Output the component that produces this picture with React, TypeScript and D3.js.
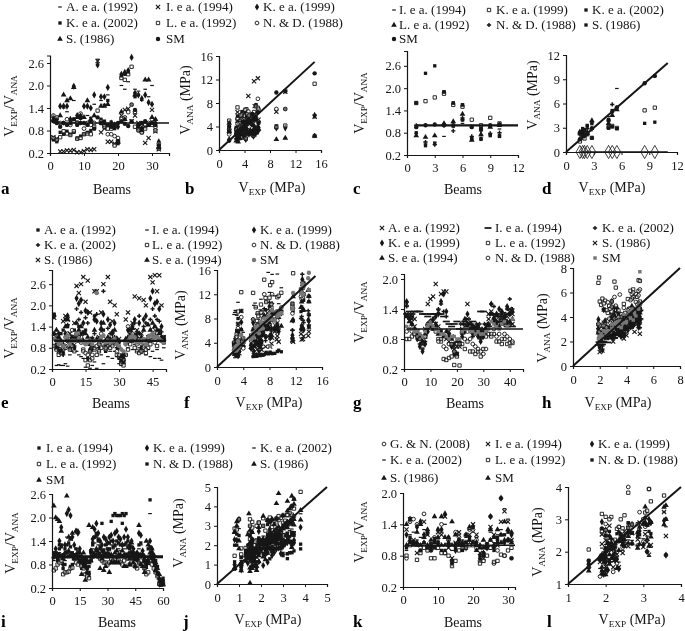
import { useEffect, useRef } from "react";
import * as d3 from "d3";

// Ratios V_EXP/V_ANA read per beam (index + 1 = beam number); V_ANA panels come from V_EXP / ratio.
// Ratios above the axis top only show up in the V_ANA panels, same as in the source figure.
const aVexp = [3.6,2.9,4.3,2.7,3.1,3.3,5.8,3.4,4.1,3.2,4.4,3.7,5.2,15,5.6,4.9,6.1,4.6,2.9,1.6,5.4,4.2,9,10.4,6.2,4.7,3.9,5.5,3,3.8,2.8,1.6];
const aA92 = [1.15,1.1,1,1.4,1.3,1.05,1.6,1.05,1.1,1,1.2,1.15,1.5,2.7,1.6,1.5,1.75,1.05,.95,.55,2,1.9,2.1,5.2,1.9,1.85,1.6,1.9,1.7,2,1.1,.3];
const aI94 = [.62,.58,.24,.24,.27,.26,.28,.22,.22,.25,.3,.28,.3,2.65,.75,.85,.5,.5,.45,.5,1.2,1.35,1.38,1.05,1.2,1,.9,.47,.6,1.35,.78,.3];
const aK99 = [1.15,1.1,1.45,1.45,1.45,1.1,1.98,1.2,1.15,1.45,1.45,1.4,1.75,2.55,1.7,1.7,1.95,1,.95,.9,2.3,2.35,2.4,2.75,1.8,1.75,1.65,1.75,1.55,1.5,1,.5];
const aK02 = [.55,.5,.75,.7,.78,.7,.75,.6,.65,.7,.75,.8,.85,6.25,1.1,1.05,1.6,.9,.85,.45,2.25,2.3,2.35,1.49,1.7,.8,.85,.9,.95,1,.95,.4];
const aL92 = [.6,.55,.62,.78,.72,.68,.78,.58,.6,.7,.72,.7,.9,1.33,1,.9,.85,.85,.4,.5,2.2,2.15,2.3,2.5,.9,.85,.75,.85,.95,.95,.8,.32];
const aN88 = [1.2,1.15,1,1,1.1,.95,1.05,1,1.25,.85,1,.95,1,6.2,1.05,.95,.7,.7,.65,.6,1.1,1.15,1.29,1.49,1.3,.8,.75,.95,1,1.1,.9,.45];
const aS86 = [1.1,1.05,1.2,1.75,1.6,1.65,1.95,1.15,1.2,1.15,1.6,1.1,1.2,6.3,1.45,1.45,1.5,.95,.9,.5,1.3,1.1,5,5.1,1.75,.9,.8,2.15,2.15,1.15,1.1,.35];
const aSM = [1.05,1,.9,1,.95,1,1.1,.95,1,1,.95,1.05,.85,1.15,1,1,.95,.9,.95,1,1.05,.98,.92,1.04,1.35,.95,1,1.05,.95,1,.95,.4];

const cVexp = [2.8,8.5,9.6,5.5,5,4.6,1.5,1.8,2,2.3];
const cI94 = [.78,.5,.55,.7,.95,1.05,1,.95,.95,.9];
const cK99 = [1.6,1.65,1.75,1.85,1.55,1.5,1.15,1,1.2,1.05];
const cK02 = [.8,.45,.5,1.9,1.6,1.55,.65,.65,.75,.72];
const cL92 = [.72,.68,.72,1.05,1.1,1.3,.6,.75,.95,1];
const cN88 = [1,.55,.48,1,.85,1.2,.7,.85,.78,.8];
const cS86 = [1.6,2.4,2.6,1.9,1.6,1.55,.62,.62,.72,.7];
const cSM = [.95,1,1.02,1,1,1.15,.95,.9,1,1.02];

const eVexp = [3.2,2.7,2.9,2.6,2.8,3,5.2,3.3,4,3.4,11.5,12.8,13.2,11.6,14,13.9,5.5,7.2,6.8,8.1,7.5,9.2,6.4,13,5.8,6.1,7.8,6.6,8.4,3,3.2,3.7,5.9,6.3,7,8.8,9.4,6.2,7.4,8,8.3,6.7,9.8,5.6,11.5,13.1,14,12.9,9.1,7.6];
const eA92 = [1.75,.9,1.1,1.2,1.3,1.6,1.4,.95,1,1.3,1.1,1.4,1.2,1.25,1.3,.5,3.2,3.5,1.7,3.3,3.1,3.6,1.3,.7,3.2,3.4,3.6,3.5,3.8,.5,.4,.6,3.3,3.2,3.6,3.9,3.4,3.1,3.3,3.5,3.7,3.2,3.9,3.1,1.2,1.4,1.1,1.3,1.05,1];
const eI94 = [.85,.3,.32,.3,.3,.35,.28,.6,.7,.8,.7,.6,.55,.5,.25,.45,.22,.3,.4,.22,.7,.6,.35,.8,.55,.7,.5,.7,.55,.35,.3,.5,.6,.8,1,.75,.9,.7,.8,.65,.7,.6,.75,.55,.7,.5,.75,.5,.45,.8];
const eK99 = [1.7,1.1,1.2,.7,.65,1.2,1.7,.8,.9,.8,2.2,2.05,2.15,1.5,1.85,1.8,.75,1.05,1.6,1.55,.95,1.5,1.75,.9,1.6,1.45,1.2,1.5,1.05,.95,.55,.5,1,1.3,1.2,1.4,1.6,1.2,1.5,.8,1.6,1.7,1.1,2.2,2.4,2.05,2.1,1.9,1.4,1.05];
const eK02 = [1.2,.85,.8,.7,.6,1.1,1.45,.8,1,.85,1.9,1.6,1.8,1.2,1.65,1.5,.7,.75,1.2,1.75,.8,1.3,2.4,.85,1.35,1.2,1.05,1.1,.8,.8,.45,.4,.9,.95,1.1,1.35,1.5,1.1,1.7,.75,1.4,1.5,1.05,1.6,1.9,1.7,1.6,1.55,1.25,1];
const eL92 = [.85,.75,.6,.65,.75,.8,1,.75,.85,.7,1.15,1,1.1,.75,.45,.3,.45,.5,.75,.6,.7,.8,.9,.75,.85,.8,.9,1,.6,.55,.35,.3,.6,.75,.9,1,.8,.7,.65,.7,.85,.65,.8,.9,1.1,1.15,.85,1.05,1,.95];
const eN88 = [1.1,1.15,1,.95,.85,.85,1.2,1.05,1.3,.95,1.2,1.1,.95,.7,.65,.6,.7,.6,.8,.85,.9,1.2,1.05,.8,.95,.9,.85,.95,.7,.6,.5,.45,.95,1.4,1.25,1.2,1.05,.9,1,.9,.8,.75,1,1.1,1.3,.95,1.2,1.15,1,1.1];
const eS86 = [1.65,.8,.7,.7,1.55,1.7,1.6,1.2,1.1,1.5,2.55,2.35,2.6,2.8,2.1,2.7,1.8,1.05,2.4,2.4,1.1,1.8,2.6,.95,2.8,2.1,1.55,2,1.75,1.05,.45,.4,1.6,1.8,1.3,1.5,2.25,1.3,2.2,1.2,2.15,2,1.1,2.8,2.65,2.85,2.4,2.85,2,1.1];
const eSe94 = [1.2,1.3,1.1,1,.9,1.4,1.6,.95,1.1,1.05,1.5,1.3,1.4,1,1.2,1.1,.9,.85,1.3,1.05,1.05,1.35,1.5,1,1.1,1.05,1.25,1.3,.95,.8,.55,.6,1.05,1.1,1.3,1.35,1.15,1,1.2,1.1,1.3,1,1.45,1.3,1.5,1.4,1.3,1.2,1.1,1.05];
const eSM = [1.05,1,.9,.95,.85,1.1,1.15,.9,1,1,1.2,1.05,1,.95,.9,.95,1,.9,1,2.35,1,1.1,1.15,.95,1,.95,1,1.05,.9,.85,.75,.7,.9,1,1.1,1.15,1.1,.95,1,.95,1.05,.9,1.1,1.15,1.2,1.1,1.1,1.05,1,.95];

const gVexp = [4.9,4.5,4.8,4.2,3.4,3.1,2.9,3.3,3.7,4,4.6,5,4.4,3.8,2.2,2,2.1,2.4,1.9,2.3,1.95,2.6,2.8,3,2.5,2.7,3.2,2.9,3.1,2.6,3.5,3.3,3.6,3.9,3.4,4.1,4.3,4.7,4.9,5,4.5];
const gA92 = [1.3,1.25,1.3,1.2,.95,.85,.75,.85,1.05,1.1,1.15,1.1,1.05,.95,.85,.8,.75,.7,.6,.65,.7,1.1,1.05,1.2,1,.95,.9,1,.85,.9,1.05,1.2,1.3,1.25,1.1,1.05,1.15,1.2,1.3,1.35,1.3];
const gI94 = [1.3,1.35,1.3,1.35,1.35,1.35,1.3,1.3,1.25,1.3,1.3,1.3,1.3,1.3,1.25,1.15,1.1,1.05,1.1,1.15,1,1.1,1.15,1.2,1.1,1.15,1.05,1.1,1.35,1.35,1.1,1.05,1.3,1.3,1.25,1.3,1.2,1.1,1.05,1.1,1.05];
const gK02 = [1.45,1.2,1.25,1,.85,.7,.6,.75,1,1.1,1,1.05,1.4,1.5,1.35,1.25,.9,.7,.55,.5,.75,.9,1,1.1,.95,.85,.9,.95,.8,.9,1,1.1,1.5,1.45,1.3,1.15,1.25,1.3,1.4,1.6,1.4];
const gK99 = [1.55,1.2,1.1,.95,.8,.65,.55,.7,.95,1.15,1.2,1.25,1.3,1.55,1.7,1.35,.85,.65,.5,.5,.7,.85,.95,1.3,1,.9,.95,.85,.75,.85,.95,1.05,1.5,1.2,1.3,1.4,1.35,1.25,1.45,1.3,1.35];
const gL92 = [.8,.8,.85,.9,.95,.8,.7,.85,1.05,1.1,1.05,.95,.8,.75,.4,.38,.42,.45,.28,.45,.27,.7,.6,.75,.55,.55,.5,.55,.45,.6,.85,.9,.85,.9,.75,.75,.7,.8,.7,.72,.72];
const gN88 = [.95,1,.95,.9,.85,.8,.65,.85,1.1,1.15,1.1,1,.75,.8,.65,.6,.7,.7,.55,.7,.7,.95,.8,.95,.8,.7,.65,.6,.55,.5,.6,.9,.9,1,.85,.9,.8,.9,.85,.8,.75];
const gS86 = [1.5,1.25,1.2,1.05,.95,.85,.7,1,1.5,1.6,1.65,1.9,1.35,1.7,1.75,1.75,.95,.85,.65,.5,.65,1,1.1,1.5,1.1,1,1.05,1.1,1,1,1.1,1.3,1.35,1.15,1.1,1.25,1.3,1.15,1.25,1.4,1.1];
const gSe94 = [1.25,1.15,1.1,.95,.9,.8,.75,.9,1.1,1.05,1,1.1,.9,.95,.85,.95,.85,.8,.7,.75,.7,.95,1.2,1.05,1.1,1.05,1,1.05,.95,.95,1,1.1,1.3,1.2,1.15,1.05,1.1,1.2,1.15,1.15,1.2];
const gSM = [1.05,1,1,.95,.95,.9,.85,.95,1.05,1.1,1.05,1,.95,.9,.9,.85,.8,.85,.85,.8,.8,.95,1,1,.95,.95,.9,.95,.9,.9,.95,1,1.15,1.1,1.05,1,1.1,1.15,1.05,.65,1.2];

const iVexp = [1.5,1.6,1.8,1.7,1.6,.8,1.1,1.8,2.1,2.3,1.1,1.4,1.9,1.75,1.5,1.4,1.3,1.45,1.6,1.5,2,2.2,2.5,2.9,2.6,2.3,2.4,2.7,2.5,2.2,2.8,3,3.2,3.4,3.5,3.3,3,3.8,3.2,3.4,3.1,2.7,2.9,2.6,2.4,2.3,3.4,3.5,2.5,2.1,1.6,1.9,3.2,2.8,2.4,1.9,1.5,1,.8,.9];
const iI94 = [1,1.1,.9,1.2,1.3,.7,.8,1.1,1,.75,.8,1,1.2,.95,.85,.7,.8,.75,.6,.6,1.1,1.3,1.5,1.55,1.4,1.2,1.15,1.1,1.05,1,1.2,1.9,2.05,2.1,2.05,2.05,2.05,2.1,2.05,2.1,1.4,1.2,1.1,1.05,1,.9,.85,.8,.75,.7,.9,1.2,2.45,1.1,1,.9,.75,.3,.3,.35];
const iK99 = [1,1.2,1.05,1.4,1.75,.8,1.3,2.1,2.2,2.05,1.5,1.3,1.65,1.6,1.2,1,.9,.85,.7,.55,1.15,1.45,1.7,1.85,1.6,1.4,1.3,1.5,1.45,1.35,1.5,1.55,1.4,1.6,1.65,1.5,1.45,1.3,1.5,1.7,1.5,1.3,1.4,1.2,1.05,1.1,1.6,1.55,1.15,1,.8,.9,1.4,1.2,.85,.7,.55,.3,.35,.4];
const iK02 = [.9,1,.95,1.1,1.3,.8,.9,1.5,1.3,1.1,1,1,1.2,1.15,1,.9,.85,.7,.6,.5,1,1.2,1.35,1.5,1.3,1.2,1.1,1.2,1.1,1,1.15,1.3,1.2,1.25,1.3,1.2,1.15,1.05,1.2,1.3,1.2,1.1,1.15,1,.9,.95,1.2,1.3,1,.85,.7,.8,2.1,1.05,.75,.6,.5,.35,.3,.35];
const iL92 = [.65,.7,.8,.85,.9,.55,.6,.6,.62,.7,.72,.95,.85,.8,.9,.75,.7,.55,.5,.45,.9,1,1.05,1.1,1,.95,.9,.85,.85,.8,.85,.95,.9,.95,1,.9,.85,.8,.9,1,.95,.8,.85,.8,.75,.7,.85,.9,.8,.7,.55,.6,.9,.8,.7,.6,.5,.3,.28,.32];
const iN88 = [1.1,1.05,1,1.3,1.25,1.05,1.2,1.3,1.35,1.25,1.1,1.05,1.05,1.1,.9,.85,.75,.8,.7,.75,1.15,1.35,1.5,1.6,1.45,1.25,1.85,1.15,1.3,1.2,1.35,1.4,1.25,1.3,1.4,1.35,1.3,1.85,1.3,1.35,1.25,1.1,1.25,1.1,.95,1,1.3,1.35,1.05,.95,.75,.85,1.25,1.1,.95,.8,.6,.4,.4,.45];
const iS86 = [2.3,2,1.95,1.9,1.65,1,1.1,2.55,1.5,1.45,1.6,1,1.65,1.65,1.1,.55,1.1,.4,.6,1.8,.9,1.75,1.05,1.2,1.1,.7,.95,.65,.75,1.1,.6,.85,.85,.85,.85,.85,1.05,1.15,.75,.75,1.05,.8,1.35,.85,.75,1,1.8,.8,.75,.6,1.4,1.3,1.1,1.2,1.05,.65,30,.55,.3,.28];
const iSM = [1,1,1.05,1.05,1,.95,1,1.1,1.15,1.05,1,.95,1.05,1,1,.9,.9,.95,.9,.85,1,1.1,1.05,1.15,1.1,1.05,1,1.05,1,1,1.05,1.05,1,1.1,1.15,1.05,1,1,1.05,1.05,1,.95,1.05,.95,.95,.95,1.05,1.05,1,.9,.85,.9,1,.95,.9,.85,.7,.45,.3,.3];

const kVexp = [2,1.95,1.85,1.9,2.05,2.2,2.1,1.55,2,2.25,2.3,2.35,2.5,1.9,2.15,2.45,2.6,2.7,2.85,3,3.05,2,2.1,2.4,3.1,2.6,2.9,3.6,3.15,3.2,3.55];
const kG08 = [.75,1.45,1.5,1.4,.9,1.6,.95,.9,1.15,1.05,1.4,.85,1.1,.7,1.25,1.15,1,1.2,1.3,1.3,1.1,.7,.85,.95,1.55,.65,.9,1.9,.8,1.1,.75];
const kI94 = [1.3,1.5,1.1,.85,1,1.45,1.2,1,.95,1.25,1.2,1.55,.95,.75,1.05,1.25,.95,1.05,1.2,1.4,1.2,.85,.75,1,1.35,1.2,1,1.45,1.65,1.45,1.1];
const kK99 = [1.2,1.5,1.05,1.35,1.45,1.2,1.25,.95,1.1,1.3,1.3,1.6,1,.65,.9,1.1,1,.95,1.1,1.35,1.05,.75,.85,.95,1.55,.95,1.1,1.9,1.05,1.1,1.2];
const kK02 = [.9,1.2,1.25,1.1,1.15,1.3,1.2,1.05,1.15,1.1,1.25,1.4,1.1,.9,1.05,1.2,1.1,1.15,1.3,1.25,1.15,.95,.95,1.05,1.25,1.05,1.2,1.3,1.7,1.5,1.1];
const kL92 = [.8,1,1.05,.72,.85,.95,.9,.75,.75,.95,.85,.85,.8,.6,.7,.9,.95,.95,1,1,.95,.65,.7,.8,.95,.68,.7,.82,.8,.9,.95];
const kN88 = [.95,1.15,1.05,1,.9,1.05,.95,.9,.95,1.05,.9,.9,1.15,.7,.95,1,.9,1.05,1.15,1.05,1,.8,.8,.95,1.1,.9,1.15,1.2,1.2,1.25,.75];
const kS86 = [1.4,1.1,1.05,1.25,1.4,1.15,1.3,1.1,1.55,1.15,1.55,1.15,1.15,1.45,1.2,1.1,1.05,1.2,1.35,1.05,.9,1,1.1,1,1.3,1.15,1.3,1.2,1.45,1.3,1.25];
const kSM = [1,1.05,1,1.05,1,1.05,1,1,1.05,1,1,1,1.05,1,1,1.05,1,1.05,1.1,1.05,1,.95,.95,1,1.1,1,1.05,1.05,1.1,1.1,1.05];

const RATIO_TICKS = [0.2, 0.8, 1.4, 2, 2.6];
const SHORT_RATIO_TICKS = [0.2, 0.8, 1.4, 2];

type Marker = "dash" | "thick" | "cross" | "diamond" | "plus" | "square" | "openSquare" | "openCircle" | "triangle" | "circle" | "greyCircle" | "greySquare";
type Row = [string, Marker, number[]];
type Group = {
  vexp: number[];
  rows: Row[];
  legendCols: [number, number][];
  legendRows: number[];
  ratio: { letter: string; letterX: number; baseY: number; beamsX: number; labelX: number; labelY: number; x: [number, number, number]; y: [number, number, number]; xTicks: number[]; yTicks: number[]; lineW: number; };
  scatter: { letter: string; letterX: number; baseY: number; titleX: number; titleY: number; labelX: number; labelY: number; x: [number, number, number, number]; y: [number, number, number, number]; ticks: number[]; lineEnd: number; minRatio?: number; };
  zeroRow?: boolean;
};

const groups: Group[] = [
  {
    vexp: aVexp,
    rows: [["A. e a. (1992)", "dash", aA92], ["I. e a. (1994)", "cross", aI94], ["K. e a. (1999)", "diamond", aK99], ["K. e a. (2002)", "square", aK02], ["L. e a. (1992)", "openSquare", aL92], ["N. & D. (1988)", "openCircle", aN88], ["S. (1986)", "triangle", aS86], ["SM", "circle", aSM]],
    legendCols: [[60, 66], [158, 166], [257, 263]], legendRows: [11, 27, 43],
    ratio: { letter: "a", letterX: 1, baseY: 194, beamsX: 112, labelX: 14, labelY: 106, x: [35, 50, 169], y: [2.8, 153, 55.5], xTicks: [0, 10, 20, 30], yTicks: RATIO_TICKS, lineW: 1.6 },
    scatter: { letter: "b", letterX: 185, baseY: 194, titleX: 272, titleY: 192, labelX: 190, labelY: 100, x: [0, 16, 219, 321], y: [0, 16, 150, 56], ticks: [0, 4, 8, 12, 16], lineEnd: 15, minRatio: 0.32 },
  },
  {
    vexp: cVexp,
    rows: [["I. e a. (1994)", "dash", cI94], ["K. e a. (1999)", "openSquare", cK99], ["K. e a. (2002)", "square", cK02], ["L. e a. (1992)", "triangle", cL92], ["N. & D. (1988)", "plus", cN88], ["S. (1986)", "square", cS86], ["SM", "circle", cSM]],
    legendCols: [[394, 399], [489, 496], [586, 592]], legendRows: [14, 29, 43],
    ratio: { letter: "c", letterX: 353, baseY: 194, beamsX: 463, labelX: 364, labelY: 103, x: [12, 407, 518], y: [3, 155, 51], xTicks: [0, 3, 6, 9, 12], yTicks: RATIO_TICKS, lineW: 2.2 },
    scatter: { letter: "d", letterX: 542, baseY: 194, titleX: 612, titleY: 192, labelX: 537, labelY: 95, x: [0, 12, 566, 677], y: [0, 12, 152, 55], ticks: [0, 3, 6, 9, 12], lineEnd: 11 },
    zeroRow: true,
  },
  {
    vexp: eVexp,
    rows: [["A. e a. (1992)", "square", eA92], ["I. e a. (1994)", "dash", eI94], ["K. e a. (1999)", "diamond", eK99], ["K. e a. (2002)", "plus", eK02], ["L. e a. (1992)", "openSquare", eL92], ["N. & D. (1988)", "openCircle", eN88], ["S. (1986)", "cross", eS86], ["S. e a. (1994)", "triangle", eSe94], ["SM", "greyCircle", eSM]],
    legendCols: [[38, 44], [147, 152], [254, 260]], legendRows: [234, 249, 264],
    ratio: { letter: "e", letterX: 1, baseY: 408, beamsX: 111, labelX: 14, labelY: 328, x: [51, 52, 166], y: [3, 369, 270], xTicks: [0, 15, 30, 45], yTicks: RATIO_TICKS, lineW: 2.6 },
    scatter: { letter: "f", letterX: 184, baseY: 408, titleX: 269, titleY: 407, labelX: 185, labelY: 325, x: [0, 16, 217, 322], y: [0, 16, 367, 270], ticks: [0, 4, 8, 12, 16], lineEnd: 15 },
  },
  {
    vexp: gVexp,
    rows: [["A. e a. (1992)", "cross", gA92], ["I. e a. (1994)", "thick", gI94], ["K. e a. (2002)", "plus", gK02], ["K. e a. (1999)", "diamond", gK99], ["L. e a. (1992)", "openSquare", gL92], ["S. (1986)", "cross", gS86], ["S. e a. (1994)", "triangle", gSe94], ["N. & D. (1988)", "openCircle", gN88], ["SM", "greySquare", gSM]],
    legendCols: [[382, 388], [488, 495], [595, 602]], legendRows: [232, 247, 262],
    ratio: { letter: "g", letterX: 353, baseY: 408, beamsX: 465, labelX: 364, labelY: 312, x: [45, 404, 523], y: [2.1, 369, 274], xTicks: [0, 10, 20, 30, 40], yTicks: SHORT_RATIO_TICKS, lineW: 1.6 },
    scatter: { letter: "h", letterX: 542, baseY: 408, titleX: 618, titleY: 407, labelX: 547, labelY: 328, x: [0, 8, 573, 680], y: [0, 8, 366, 268], ticks: [0, 2, 4, 6, 8], lineEnd: 8 },
  },
  {
    vexp: iVexp,
    rows: [["I. e a. (1994)", "square", iI94], ["K. e a. (1999)", "diamond", iK99], ["K. e a. (2002)", "dash", iK02], ["L. e a. (1992)", "openSquare", iL92], ["N. & D. (1988)", "square", iN88], ["S. (1986)", "triangle", iS86], ["SM", "triangle", iSM]],
    legendCols: [[39, 46], [147, 153], [254, 260]], legendRows: [452, 468, 484],
    ratio: { letter: "i", letterX: 1, baseY: 627, beamsX: 117, labelX: 15, labelY: 543, x: [60, 52, 163], y: [2.6, 588, 494], xTicks: [0, 15, 30, 45, 60], yTicks: RATIO_TICKS, lineW: 3 },
    scatter: { letter: "j", letterX: 183, baseY: 627, titleX: 268, titleY: 624, labelX: 183, labelY: 533, x: [0, 5, 217, 327], y: [0, 5, 584, 487], ticks: [0, 1, 2, 3, 4, 5], lineEnd: 5 },
  },
  {
    vexp: kVexp,
    rows: [["G. & N. (2008)", "openCircle", kG08], ["I. e a. (1994)", "cross", kI94], ["K. e a. (1999)", "diamond", kK99], ["K. e a. (2002)", "dash", kK02], ["L. e a. (1992)", "openSquare", kL92], ["N. & D. (1988)", "square", kN88], ["S. (1986)", "triangle", kS86], ["SM", "triangle", kSM]],
    legendCols: [[384, 390], [488, 495], [592, 598]], legendRows: [448, 464, 482],
    ratio: { letter: "k", letterX: 353, baseY: 627, beamsX: 463, labelX: 364, labelY: 532, x: [32, 403, 515], y: [2, 587, 493], xTicks: [0, 10, 20, 30], yTicks: SHORT_RATIO_TICKS, lineW: 1.6 },
    scatter: { letter: "l", letterX: 547, baseY: 627, titleX: 632, titleY: 624, labelX: 542, labelY: 542, x: [1, 4, 568, 681], y: [1, 4, 584, 487], ticks: [1, 2, 3, 4], lineEnd: 4 },
  },
];

const FONT = "'Liberation Serif', 'Times New Roman', serif";
const INK = "#141414";

function drawMarker(g: d3.Selection<SVGGElement, unknown, null, undefined>, kind: Marker, cx: number, cy: number) {
  const at = `translate(${cx},${cy})`;
  if (kind === "dash" || kind === "thick") {
    const half = kind === "thick" ? 3.5 : 1.8;
    g.append("line").attr("transform", at).attr("x1", -half).attr("x2", half).attr("stroke", INK).attr("stroke-width", kind === "thick" ? 1.7 : 1.2);
    return;
  }
  const types: Record<string, d3.SymbolType> = {
    cross: d3.symbolTimes, plus: d3.symbolCross, diamond: d3.symbolDiamond, square: d3.symbolSquare,
    openSquare: d3.symbolSquare, openCircle: d3.symbolCircle, triangle: d3.symbolTriangle,
    circle: d3.symbolCircle, greyCircle: d3.symbolCircle, greySquare: d3.symbolSquare,
  };
  const sizes: Record<string, number> = { cross: 13, plus: 10, diamond: 15, square: 11, openSquare: 11, openCircle: 11, triangle: 14, circle: 15, greyCircle: 15, greySquare: 12 };
  const d = d3.symbol().type(types[kind]).size(sizes[kind])()!;
  const p = g.append("path").attr("transform", at).attr("d", d);
  if (kind === "cross") p.attr("fill", "none").attr("stroke", INK).attr("stroke-width", 1.1);
  else if (kind === "openSquare" || kind === "openCircle") p.attr("fill", "#fff").attr("fill-opacity", 0.4).attr("stroke", INK).attr("stroke-width", 0.9);
  else if (kind === "greyCircle" || kind === "greySquare") p.attr("fill", "#777");
  else p.attr("fill", INK);
}

// text with subscripts: parts alternate plain / subscript
function subText(g: d3.Selection<SVGGElement, unknown, null, undefined>, parts: string[], size: number, x: number, y: number, rotate: boolean) {
  const t = g.append("text")
    .attr("text-anchor", "middle").attr("font-size", size).attr("fill", INK)
    .attr("transform", rotate ? `translate(${x},${y}) rotate(-90)` : `translate(${x},${y})`);
  parts.forEach((part, i) => {
    const sub = i % 2 === 1;
    const s = t.append("tspan").text(part).attr("font-size", sub ? size * 0.66 : size);
    s.attr("dy", sub ? 3 : i > 0 ? -3 : 0);
  });
}

function styleAxis(ax: d3.Selection<SVGGElement, unknown, null, undefined>) {
  ax.select(".domain").attr("stroke", INK).attr("stroke-width", 1.2);
  ax.selectAll("line").attr("stroke", INK).attr("stroke-width", 1);
  ax.selectAll("text").attr("fill", INK).attr("font-size", 12.5).attr("font-family", FONT);
}

function drawGroup(root: d3.Selection<SVGGElement, unknown, null, undefined>, grp: Group) {
  // legend, filled row by row in three columns
  grp.rows.forEach(([name, marker], i) => {
    const [mx, tx] = grp.legendCols[i % 3];
    const y = grp.legendRows[Math.floor(i / 3)];
    drawMarker(root, marker, mx, y - 4);
    root.append("text").attr("x", tx).attr("y", y).attr("font-size", 13).attr("fill", INK).text(name);
  });

  // ratio panel
  const r = grp.ratio;
  const rx = d3.scaleLinear().domain([0, r.x[0]]).range([r.x[1], r.x[2]]);
  const ry = d3.scaleLinear().domain([0.2, r.y[0]]).range([r.y[1], r.y[2]]);
  grp.rows.forEach(([, marker, values]) => {
    values.forEach((v, i) => {
      if (v < 0.2 || v > r.y[0]) return;
      drawMarker(root, marker, rx(i + 1), ry(v));
    });
  });
  root.append("line").attr("x1", rx(1)).attr("x2", r.x[2]).attr("y1", ry(1)).attr("y2", ry(1)).attr("stroke", INK).attr("stroke-width", r.lineW);
  root.append("g").attr("transform", `translate(0,${r.y[1]})`)
    .call(d3.axisBottom(rx).tickValues(r.xTicks).tickFormat(d3.format("d") as any).tickSizeOuter(0).tickSize(3).tickPadding(5)).call(styleAxis);
  root.append("g").attr("transform", `translate(${r.x[1]},0)`)
    .call(d3.axisLeft(ry).tickValues(r.yTicks).tickFormat(d3.format(".1f") as any).tickSizeOuter(0).tickSize(3).tickPadding(3)).call(styleAxis);
  root.append("text").attr("x", r.beamsX).attr("y", r.baseY).attr("text-anchor", "middle").attr("font-size", 14).attr("fill", INK).text("Beams");
  root.append("text").attr("x", r.letterX).attr("y", r.baseY).attr("font-size", 17).attr("font-weight", "bold").attr("fill", "#000").text(r.letter);
  subText(root, ["V", "EXP", "/V", "ANA"], 14, r.labelX, r.labelY, true);

  // scatter panel, V_ANA = V_EXP / ratio
  const s = grp.scatter;
  const sx = d3.scaleLinear().domain([s.x[0], s.x[1]]).range([s.x[2], s.x[3]]);
  const sy = d3.scaleLinear().domain([s.y[0], s.y[1]]).range([s.y[2], s.y[3]]);
  grp.rows.forEach(([, marker, values]) => {
    values.forEach((v, i) => {
      const vana = grp.vexp[i] / v;
      if (vana < s.y[0] || vana > s.y[1]) return;
      if (s.minRatio && v < s.minRatio) return;
      drawMarker(root, marker, sx(grp.vexp[i]), sy(vana));
    });
  });
  root.append("line").attr("x1", sx(s.x[0])).attr("y1", sy(s.x[0])).attr("x2", sx(s.lineEnd)).attr("y2", sy(s.lineEnd)).attr("stroke", INK).attr("stroke-width", 2);
  if (grp.zeroRow) {
    root.append("line").attr("x1", sx(d3.min(grp.vexp)!)).attr("x2", sx(s.lineEnd)).attr("y1", sy(0)).attr("y2", sy(0)).attr("stroke", INK).attr("stroke-width", 1.6);
    grp.vexp.forEach((v) => {
      root.append("path").attr("transform", `translate(${sx(v)},${sy(0)})`).attr("d", d3.symbol().type(d3.symbolDiamond).size(50)()!)
        .attr("fill", "none").attr("stroke", INK).attr("stroke-width", 0.8);
    });
  }
  root.append("g").attr("transform", `translate(0,${s.y[2]})`)
    .call(d3.axisBottom(sx).tickValues(s.ticks).tickFormat(d3.format("d") as any).tickSizeOuter(0).tickSize(3).tickPadding(6)).call(styleAxis);
  root.append("g").attr("transform", `translate(${s.x[2]},0)`)
    .call(d3.axisLeft(sy).tickValues(s.ticks).tickFormat(d3.format("d") as any).tickSizeOuter(0).tickSize(3).tickPadding(3)).call(styleAxis);
  root.append("text").attr("x", s.letterX).attr("y", s.baseY).attr("font-size", 17).attr("font-weight", "bold").attr("fill", "#000").text(s.letter);
  subText(root, ["V", "EXP", " (MPa)"], 14, s.titleX, s.titleY, false);
  subText(root, ["V", "ANA", " (MPa)"], 14, s.labelX, s.labelY, true);
}

export default function App() {
  const svgRef = useRef<SVGSVGElement>(null);

  useEffect(() => {
    if (!svgRef.current) return;
    const svg = d3.select(svgRef.current);
    svg.selectAll("*").remove();
    const defs = svg.append("defs");
    defs.append("filter").attr("id", "soft").append("feGaussianBlur").attr("stdDeviation", 0.3);
    const root = svg.append("g").attr("font-family", FONT).attr("filter", "url(#soft)") as any;
    groups.forEach((grp) => drawGroup(root, grp));
  }, []);

  return <svg ref={svgRef} width={685} height={631} style={{ position: "absolute", left: 0, top: 0, background: "#fff" }} />;
}
